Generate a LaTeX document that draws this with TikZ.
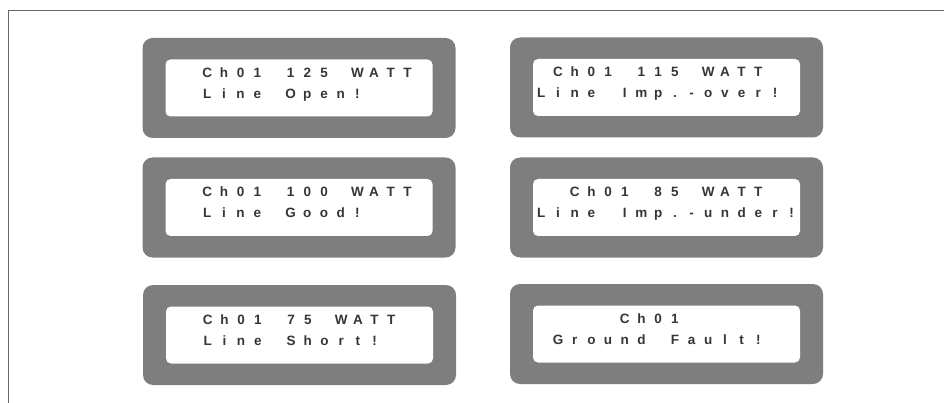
\documentclass[tikz,border=0pt]{standalone}
\usepackage{fontspec}
\newfontfamily\lcdfont{Liberation Sans}[BoldFont={Liberation Sans Bold}]
\usetikzlibrary{calc}
\newlength\lcdcell
\setlength\lcdcell{16.69pt}
\ExplSyntaxOn
\NewDocumentCommand\lcd{m}{\str_map_inline:nn{#1}{\makebox[\lcdcell][c]{##1}}}
\ExplSyntaxOff
\definecolor{bezelgray}{HTML}{7E7E7E}
\definecolor{lcdink}{HTML}{363636}
\definecolor{framegray}{HTML}{666666}
\tikzset{
  bezel/.style={rectangle, rounded corners=10pt, fill=bezelgray, minimum width=313pt, minimum height=100pt, inner sep=0pt},
  screen/.style={rectangle, rounded corners=5pt, fill=white, minimum width=267pt, minimum height=57pt, inner sep=0pt},
  lcdtxt/.style={anchor=base west, inner sep=0pt, text=lcdink, font=\lcdfont\bfseries\fontsize{13.5}{15}\selectfont},
  framepath/.style={draw=framegray, line width=1.7pt},
}
\newcommand\lcdrow[5]{\node[lcdtxt] (#1) at ($(#2.north west)+({#3*16.69},#4)$) {\lcd{#5}};}
\begin{document}
\begin{tikzpicture}[x=1pt,y=-1pt]
\useasboundingbox (0,0) rectangle (944,403);
\fill[white] (0,0) rectangle (944,403);
\coordinate (fbl) at (8.5,403);
\coordinate (ftl) at (8.5,10.5);
\coordinate (ftr) at (944,10.5);
\draw[framepath] (fbl) -- (ftl) -- (ftr);

% left column
\node[bezel] (b1) at (299,88) {};
\node[screen] (s1) at (b1) {};
\lcdrow{t1a}{s1}{2}{17.8}{Ch01 125 WATT}
\lcdrow{t1b}{s1}{2}{38.8}{Line Open!}

\node[bezel] (b3) at (299,207.5) {};
\node[screen] (s3) at (b3) {};
\lcdrow{t3a}{s3}{2}{17.8}{Ch01 100 WATT}
\lcdrow{t3b}{s3}{2}{38.8}{Line Good!}

\node[bezel] (b5) at (299.5,335) {};
\node[screen] (s5) at (b5) {};
\lcdrow{t5a}{s5}{2}{17.8}{Ch01 75 WATT}
\lcdrow{t5b}{s5}{2}{38.8}{Line Short!}

% right column
\node[bezel] (b2) at (666.5,87.5) {};
\node[screen] (s2) at (b2) {};
\lcdrow{t2a}{s2}{1}{17.8}{Ch01 115 WATT}
\lcdrow{t2b}{s2}{0}{38.8}{Line Imp.-over!}

\node[bezel] (b4) at (666.5,207.5) {};
\node[screen] (s4) at (b4) {};
\lcdrow{t4a}{s4}{2}{17.8}{Ch01 85 WATT}
\lcdrow{t4b}{s4}{0}{38.8}{Line Imp.-under!}

\node[bezel] (b6) at (666.5,334) {};
\node[screen] (s6) at (b6) {};
\lcdrow{t6a}{s6}{5}{17.8}{Ch01}
\lcdrow{t6b}{s6}{1}{38.8}{Ground Fault!}
\end{tikzpicture}
\end{document}
